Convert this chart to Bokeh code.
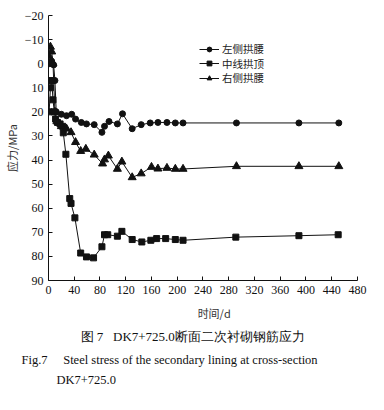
from bokeh.plotting import figure
from bokeh.models import Range1d, FixedTicker, Legend, LegendItem, Title, AllLabels
from bokeh.embed import file_html
from bokeh.resources import INLINE

# 左侧拱腰 (left arch waist)
t_left = [2, 5, 8, 10, 12, 20, 28, 36, 42, 51, 59, 71, 83, 87, 94, 107, 115, 130, 144, 158, 170, 184, 197, 209, 292, 389, 451]
v_left = [0, -1, 0.5, 7, 20, 21, 21.6, 21, 23, 24.4, 25, 25.3, 28.5, 26, 24, 25, 20.8, 27, 25.3, 24.6, 24.4, 24.4, 24.6, 24.6, 24.6, 24.6, 24.6]

# 中线拱顶 (crown)
t_mid = [1, 3, 5, 7, 9, 11, 14, 18, 22, 23, 27, 33, 35, 41, 50, 59, 70, 83, 87, 92, 107, 114, 130, 145, 159, 168, 182, 197, 209, 291, 389, 450]
v_mid = [20, 10, 7, 15, 20, 23, 24.4, 25, 26, 28.7, 37.6, 56, 58, 64, 78.6, 80.2, 80.6, 76, 71, 71, 71.6, 69.6, 73, 74, 73.3, 72.6, 72.6, 73, 73.3, 72, 71.4, 71]

# 右侧拱腰 (right arch waist)
t_right = [1, 3, 5, 7, 10, 13, 20, 28, 35, 42, 50, 58, 71, 84, 87, 93, 107, 114, 130, 144, 160, 170, 184, 197, 209, 292, 389, 451]
v_right = [-3, -7, -5, 0, 20, 24, 26, 27, 28.5, 32.6, 36.3, 35.4, 37.8, 41.5, 39.8, 38.2, 43.7, 40.7, 47.2, 45.6, 42.9, 43.6, 43.3, 43.7, 43.7, 42.6, 42.6, 42.6]

series_names = ["左侧拱腰", "中线拱顶", "右侧拱腰"]
x_ticks = list(range(0, 481, 40))
y_ticks = list(range(-20, 91, 10))

x_label = "时间/d"
y_label = "应力/MPa"
caption_cn = "图 7\u2002 DK7+725.0断面二次衬砌钢筋应力"
caption_en1 = "Fig.7\u2003 Steel stress of the secondary lining at cross-section"
caption_en2 = "DK7+725.0"

serif = "Liberation Serif"
cjk = "Noto Sans CJK SC"
ink = "#111111"

p = figure(width=384, height=410, output_backend="svg", toolbar_location=None,
           x_range=Range1d(0, 514.2), y_range=Range1d(90, -20),
           min_border_left=48, min_border_right=5, min_border_top=15, min_border_bottom=130)
p.outline_line_color = None
p.grid.visible = False
p.background_fill_color = "white"
p.border_fill_color = "white"

for ax in (p.xaxis[0], p.yaxis[0]):
    ax.axis_line_color = ink
    ax.major_tick_line_color = ink
    ax.major_tick_in = 4
    ax.major_tick_out = 0
    ax.minor_tick_line_color = None
    ax.major_label_text_font = serif
    ax.major_label_text_font_size = "12px"
    ax.major_label_text_color = ink
    ax.major_label_policy = AllLabels()
    ax.axis_label_text_font = cjk
    ax.axis_label_text_font_size = "11px"
    ax.axis_label_text_font_style = "normal"
    ax.axis_label_text_color = "#333333"

p.xaxis.ticker = FixedTicker(ticks=x_ticks)
p.yaxis.ticker = FixedTicker(ticks=y_ticks)
p.xaxis.major_label_overrides = {480: "480"}
p.xaxis.bounds = (0, 480)
p.xaxis.major_label_standoff = 5
p.yaxis.major_label_standoff = 5
p.xaxis.axis_label = x_label
p.yaxis.axis_label = y_label
p.xaxis.axis_label_standoff = 8
p.yaxis.axis_label_standoff = 2

l1 = p.line(t_left, v_left, line_color=ink, line_width=1)
m1 = p.scatter(t_left, v_left, marker="circle", size=6, fill_color=ink, line_color=ink)
l2 = p.line(t_mid, v_mid, line_color=ink, line_width=1)
m2 = p.scatter(t_mid, v_mid, marker="square", size=6, fill_color=ink, line_color=ink)
l3 = p.line(t_right, v_right, line_color=ink, line_width=1)
m3 = p.scatter(t_right, v_right, marker="triangle", size=8, fill_color=ink, line_color=ink)

renderer_pairs = [(l1, m1), (l2, m2), (l3, m3)]
legend_y = [224, 209.5, 195]
for name, rs, ly in zip(series_names, renderer_pairs, legend_y):
    lg = Legend(items=[LegendItem(label=name, renderers=list(rs))],
                location=(151, ly), glyph_width=20, glyph_height=12, label_height=12,
                spacing=0, padding=0, margin=0, label_standoff=3,
                border_line_color=None, background_fill_alpha=0,
                label_text_font=cjk, label_text_font_size="10.5px", label_text_color="#222222")
    p.add_layout(lg)

t1 = Title(text=caption_cn, align="left", offset=28, standoff=7, padding=(4, 0, 0, 0),
           text_font=serif, text_font_size="13px", text_font_style="normal", text_color=ink)
t2 = Title(text=caption_en1, align="left", offset=-27, standoff=7,
           text_font=serif, text_font_size="12.5px", text_font_style="normal", text_color=ink)
t3 = Title(text=caption_en2, align="left", offset=8, standoff=1,
           text_font=serif, text_font_size="12.5px", text_font_style="normal", text_color=ink)
p.add_layout(t1, "below")
p.add_layout(t2, "below")
p.add_layout(t3, "below")

open("out.html", "w").write(file_html(p, INLINE))
